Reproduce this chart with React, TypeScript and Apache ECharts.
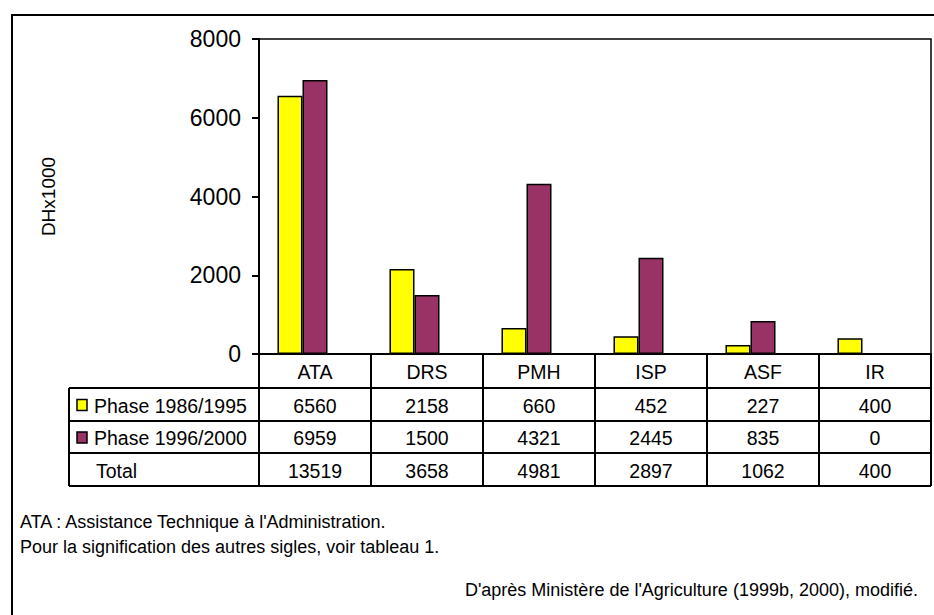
import React, { useEffect, useRef } from "react";
import * as echarts from "echarts";

const categories = ["ATA", "DRS", "PMH", "ISP", "ASF", "IR"];
const phase1 = [6560, 2158, 660, 452, 227, 400];
const phase2 = [6959, 1500, 4321, 2445, 835, 0];
const totals = [13519, 3658, 4981, 2897, 1062, 400];
const seriesNames = ["Phase 1986/1995", "Phase 1996/2000", "Total"];
const seriesColors = ["#FFFF00", "#993366"];
const yAxisName = "DHx1000";
const footnotes = [
  "ATA : Assistance Technique à l'Administration.",
  "Pour la signification des autres sigles, voir tableau 1.",
];
const sourceNote = "D'après Ministère de l'Agriculture (1999b, 2000), modifié.";

const FONT = '"Liberation Sans", Arial, Helvetica, sans-serif';

export default function App() {
  const ref = useRef<HTMLDivElement>(null);
  useEffect(() => {
    if (!ref.current) return;
    const chart = echarts.init(ref.current, null, { renderer: "svg" });
    chart.setOption({
      animation: false,
      backgroundColor: "#ffffff",
      textStyle: { fontFamily: FONT },
      grid: {
        left: 259,
        right: 3,
        top: 39,
        bottom: 261,
        show: true,
        borderColor: "#000",
        borderWidth: 1.5,
        containLabel: false,
      },
      xAxis: {
        type: "category",
        data: categories,
        axisLine: { show: true, lineStyle: { color: "#000", width: 2 } },
        axisTick: { show: false },
        axisLabel: { show: false },
        splitLine: { show: false },
      },
      yAxis: {
        type: "value",
        min: 0,
        max: 8000,
        interval: 2000,
        name: yAxisName,
        nameLocation: "middle",
        nameGap: 201,
        nameRotate: 90,
        nameTextStyle: { color: "#000", fontSize: 19, fontFamily: FONT },
        axisLine: { show: true, lineStyle: { color: "#000", width: 2 } },
        axisTick: { show: true, length: 7, lineStyle: { color: "#000", width: 2 } },
        axisLabel: {
          color: "#000",
          fontSize: 23,
          margin: 18,
          fontFamily: FONT,
          formatter: (v: number) => String(v),
        },
        splitLine: { show: false },
      },
      series: [
        {
          name: seriesNames[0],
          type: "bar",
          data: phase1,
          barGap: "0%",
          barCategoryGap: "33%",
          itemStyle: { color: seriesColors[0], borderColor: "#000", borderWidth: 1.5 },
        },
        {
          name: seriesNames[1],
          type: "bar",
          data: phase2.map((v) => (v === 0 ? null : v)),
          barGap: "0%",
          barCategoryGap: "33%",
          itemStyle: { color: seriesColors[1], borderColor: "#000", borderWidth: 1.5 },
        },
        {
          name: seriesNames[2],
          type: "bar",
          data: totals,
          barGap: "0%",
          barCategoryGap: "33%",
          silent: true,
          itemStyle: { color: "rgba(0,0,0,0)", borderWidth: 0 },
        },
      ],
    });

    const xs = categories.map((_, i) => chart.convertToPixel({ xAxisIndex: 0 }, i) as number);
    const step = xs[1] - xs[0];
    const left = xs[0] - step / 2;
    const right = xs[xs.length - 1] + step / 2;
    const y0 = chart.convertToPixel({ yAxisIndex: 0 }, 0) as number;
    const tableLeft = 69;
    const rowY = [y0, y0 + 34, y0 + 67, y0 + 99, y0 + 132];
    const lw = 2;
    const els: any[] = [];
    const line = (x1: number, y1: number, x2: number, y2: number) =>
      els.push({ type: "line", shape: { x1, y1, x2, y2 }, style: { stroke: "#000", lineWidth: lw } });
    const text = (t: string, x: number, y: number, align = "center", size = 19.5) =>
      els.push({
        type: "text",
        x,
        y,
        style: { text: t, fill: "#000", fontSize: size, fontFamily: FONT, align, verticalAlign: "middle" },
      });

    for (let r = 1; r < rowY.length; r++) line(tableLeft, rowY[r], right, rowY[r]);
    line(tableLeft, rowY[1], tableLeft, rowY[4]);
    for (let i = 0; i <= categories.length; i++) {
      const x = left + step * i;
      line(x, rowY[0], x, rowY[4]);
    }
    const mid = (r: number) => (rowY[r] + rowY[r + 1]) / 2 + 1;
    categories.forEach((c, i) => text(c, xs[i], mid(0)));
    phase1.forEach((v, i) => text(String(v), xs[i], mid(1)));
    phase2.forEach((v, i) => text(String(v), xs[i], mid(2)));
    totals.forEach((v, i) => text(String(v), xs[i], mid(3)));
    [0, 1].forEach((s) => {
      els.push({
        type: "rect",
        shape: { x: 77, y: mid(s + 1) - 6, width: 10, height: 11 },
        style: { fill: seriesColors[s], stroke: "#000", lineWidth: 1.5 },
      });
      text(seriesNames[s], 94, mid(s + 1), "left");
    });
    text(seriesNames[2], 96, mid(3), "left");

    els.push({
      type: "rect",
      shape: { x: 12, y: 15, width: 940, height: 640 },
      style: { fill: "none", stroke: "#000", lineWidth: 2 },
      silent: true,
    });
    footnotes.forEach((f, i) => text(f, 20, 522 + i * 25, "left", 18));
    text(sourceNote, 918, 590, "right", 18);

    chart.setOption({ graphic: els });
    return () => chart.dispose();
  }, []);
  return (
    <div
      ref={ref}
      style={{ position: "fixed", left: 0, top: 0, width: 934, height: 615, background: "#fff" }}
    />
  );
}
